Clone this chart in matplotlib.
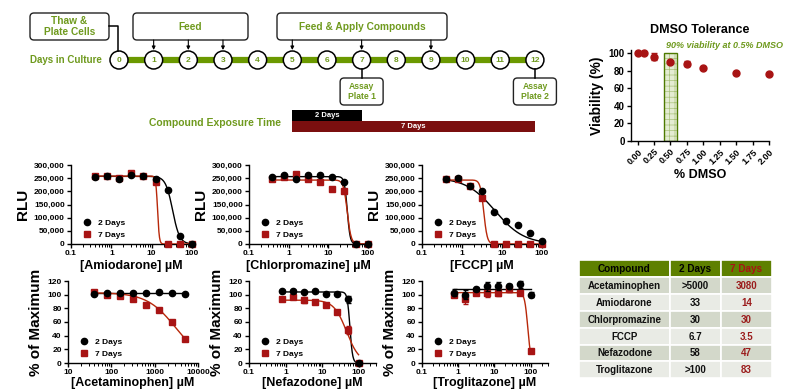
import matplotlib
matplotlib.use('Agg')
import matplotlib.pyplot as plt
import numpy as np
from matplotlib.patches import FancyBboxPatch, Rectangle, Circle
from matplotlib.lines import Line2D
from matplotlib.ticker import FuncFormatter, FixedLocator, LogLocator, NullFormatter

plt.rcParams['font.family'] = ['Liberation Sans', 'DejaVu Sans']
plt.rcParams['font.weight'] = 'bold'
plt.rcParams['axes.labelweight'] = 'bold'
plt.rcParams['hatch.linewidth'] = 0.5

GREEN = '#6f9a1e'
BAR_GREEN = '#6b9900'
RED = '#a81414'
CURVE_RED = '#b8280a'
DARK_RED = '#7b0f0f'

# ---- dose-response data ----
conc_9 = [0.39, 0.78, 1.56, 3.125, 6.25, 12.5, 25, 50, 100]
conc_8 = [0.78, 1.56, 3.125, 6.25, 12.5, 25, 50, 100]
apap_conc = [39, 78, 156, 312.5, 625, 1250, 2500, 5000]

amio_2d = [253000, 258000, 247000, 263000, 258000, 245000, 205000, 30000, 0]
amio_7d = [260000, 258000, 250000, 270000, 260000, 235000, 0, 0, 0]
chlor_2d = [253000, 262000, 247000, 262000, 262000, 256000, 235000, 0, 0]
chlor_7d = [247000, 255000, 265000, 245000, 236000, 210000, 200000, 0, 0]
fccp_2d = [248000, 250000, 222000, 200000, 120000, 88000, 72000, 42000, 12000]
fccp_7d = [248000, 248000, 222000, 175000, 0, 0, 0, 0, 0]

apap_2d = [101, 102, 102, 103, 102, 104, 102, 101]
apap_7d = [104, 99, 98, 94, 85, 77, 60, 35]
nef_2d = [105, 105, 104, 105, 101, 101, 93, 0]
nef_2d_err = [2, 2, 2, 2, 2, 2, 5, 1]
nef_7d = [94, 97, 92, 89, 85, 75, 48, 0]
nef_7d_err = [3, 3, 4, 3, 3, 3, 6, 1]
trog_2d = [103, 100, 108, 112, 113, 112, 115, 100]
trog_2d_err = [5, 7, 3, 6, 6, 4, 5, 4]
trog_7d = [100, 93, 103, 103, 103, 108, 102, 18]
trog_7d_err = [3, 6, 3, 7, 5, 4, 3, 2]

# fitted 4-parameter logistic: (top, bottom, IC50, hill); inf IC50 = no response
amio_fit = [(257000, 0, 33, 5), (258000, 0, 14, 20)]
chlor_fit = [(256000, 0, 30, 12), (243000, 0, 30, 9)]
fccp_fit = [(252000, 0, 6.7, 1.2), (243000, 0, 3.5, 10)]
apap_fit = [(102, 0, np.inf, 1), (103, 0, 3080, 1.3)]
nef_fit = [(104, 0, 58, 12), (92, 0, 47, 2.5)]
trog_fit = [(108, 0, np.inf, 1), (103, 0, 83, 10)]

# ---- DMSO tolerance ----
dmso_conc = [0, 0.1, 0.25, 0.5, 0.75, 1.0, 1.5, 2.0]
dmso_viab = [100, 99.5, 96, 90, 88, 83, 77, 76]
dmso_err = [0, 0, 4, 0, 3, 0, 0, 0]

# ---- IC50 table ----
table_cols = ['Compound', '2 Days', '7 Days']
compounds = ['Acetaminophen', 'Amiodarone', 'Chlorpromazine', 'FCCP', 'Nefazodone', 'Troglitazone']
ic50_2d = ['>5000', '33', '30', '6.7', '58', '>100']
ic50_7d = ['3080', '14', '30', '3.5', '47', '83']

# ---- timeline ----
days = list(range(13))
feed_days = [1, 2, 3]
apply_days = [5, 7, 9]
assay_days = [7, 12]
exposure_start = 5
exposures = [2, 7]


def logistic(x, top, bottom, ic50, hill):
    x = np.asarray(x, dtype=float)
    if np.isinf(ic50):
        return np.full_like(x, top)
    return bottom + (top - bottom) / (1 + (x / ic50) ** hill)


W, H = 790, 391
fig = plt.figure(figsize=(W / 100, H / 100), dpi=100)

# pixel-space canvas for the schematic and the table
can = fig.add_axes([0, 0, 1, 1])
can.set_xlim(0, W)
can.set_ylim(H, 0)
can.axis('off')

x0, dx, yline = 119, 34.66, 60
day_x = [x0 + dx * d for d in days]
can.plot([day_x[0], day_x[-1]], [yline, yline], color=BAR_GREEN, lw=4.5,
         solid_capstyle='butt', zorder=1)
for d, x in zip(days, day_x):
    can.add_patch(Circle((x, yline), 9, facecolor='white', edgecolor='black', lw=1.1, zorder=2))
    can.text(x, yline + 0.5, str(d), ha='center', va='center', fontsize=6, color=GREEN, zorder=3)
can.text(102, yline, 'Days in Culture', ha='right', va='center', fontsize=7, color=GREEN)


def box(xa, ya, xb, yb, label, fs=7.3):
    can.add_patch(FancyBboxPatch((xa, ya), xb - xa, yb - ya,
                                 boxstyle='round,pad=0,rounding_size=4',
                                 facecolor='white', edgecolor='#222222', lw=1.0))
    can.text((xa + xb) / 2, (ya + yb) / 2, label, ha='center', va='center',
             fontsize=fs, color=GREEN, linespacing=1.1)


box(30, 13, 109, 40, 'Thaw &\nPlate Cells')
can.plot([109, 118, 118], [26, 26, yline - 9], color='black', lw=1.1)
box(133, 13, 248, 40, 'Feed')
box(277, 13, 447, 40, 'Feed & Apply Compounds')
for d in feed_days + apply_days:
    can.annotate('', xy=(day_x[d], yline - 10), xytext=(day_x[d], 40),
                 arrowprops=dict(arrowstyle='-|>', color='black', lw=0.8,
                                 mutation_scale=5, shrinkA=0, shrinkB=0))
for i, d in enumerate(assay_days):
    can.plot([day_x[d], day_x[d]], [yline + 9, 78], color='black', lw=1.1)
    box(day_x[d] - 21.5, 78, day_x[d] + 21.5, 105, f'Assay\nPlate {i + 1}', fs=6.2)

can.text(281, 123, 'Compound Exposure Time', ha='right', va='center', fontsize=7.5, color=GREEN)
for k, (n, col, yt) in enumerate(zip(exposures, ['black', DARK_RED], [110, 121])):
    xs = day_x[exposure_start]
    xe = day_x[exposure_start + n]
    can.add_patch(Rectangle((xs, yt), xe - xs, 11, facecolor=col, edgecolor='none'))
    can.text((xs + xe) / 2, yt + 5.5, f'{n} Days', ha='center', va='center',
             fontsize=5.5, color='white')

# IC50 table
col_edges = [579, 670, 721, 772]
row_top, row_h = 260, 16.9
head_bg = '#5e8000'
row_bg = ['#d3d8ca', '#e9ebe5']
for j, name in enumerate(table_cols):
    can.add_patch(Rectangle((col_edges[j], row_top), col_edges[j + 1] - col_edges[j], row_h,
                            facecolor=head_bg, edgecolor='white', lw=1.2))
    can.text((col_edges[j] + col_edges[j + 1]) / 2, row_top + row_h / 2 + 0.5, name,
             ha='center', va='center', fontsize=7.2,
             color=RED if j == 2 else 'black')
for i, (c, a, b) in enumerate(zip(compounds, ic50_2d, ic50_7d)):
    yt = row_top + row_h * (i + 1)
    for j, txt in enumerate([c, a, b]):
        can.add_patch(Rectangle((col_edges[j], yt), col_edges[j + 1] - col_edges[j], row_h,
                                facecolor=row_bg[i % 2], edgecolor='white', lw=1.2))
        can.text((col_edges[j] + col_edges[j + 1]) / 2, yt + row_h / 2 + 0.5, txt,
                 ha='center', va='center', fontsize=7,
                 color='#9b1c1c' if j == 2 else '#111111')


def px_axes(left, right, bottom, top):
    return fig.add_axes([left / W, 1 - bottom / H, (right - left) / W, (bottom - top) / H])


def style(ax):
    for s in ['top', 'right']:
        ax.spines[s].set_visible(False)
    for s in ['left', 'bottom']:
        ax.spines[s].set_linewidth(1.0)
    ax.tick_params(which='major', direction='out', length=3, width=1.0, labelsize=6, pad=1.5)
    ax.tick_params(which='minor', direction='out', length=1.8, width=0.7)


def dose_panel(ax, conc, d2, d7, fits, err2=None, err7=None, rlu=True, xlim=(0.1, 100), xlabel=''):
    style(ax)
    ax.set_xscale('log')
    xx = np.logspace(np.log10(conc[0]), np.log10(conc[-1]), 300)
    ax.plot(xx, logistic(xx, *fits[0]), color='black', lw=1.0, zorder=3)
    ax.plot(xx, logistic(xx, *fits[1]), color=CURVE_RED, lw=1.0, zorder=3)
    ax.errorbar(conc, d7, yerr=err7, fmt='s', color=RED, ms=4.5, elinewidth=0.9,
                capsize=1.8, clip_on=False, zorder=4)
    ax.errorbar(conc, d2, yerr=err2, fmt='o', color='black', ms=4.5, elinewidth=0.9,
                capsize=1.8, clip_on=False, zorder=5)
    ax.set_xlim(*xlim)
    ax.xaxis.set_major_locator(LogLocator(base=10, numticks=10))
    ax.xaxis.set_minor_locator(LogLocator(base=10, subs=np.arange(2, 10), numticks=10))
    ax.xaxis.set_minor_formatter(NullFormatter())
    ax.xaxis.set_major_formatter(FuncFormatter(lambda v, p: f'{v:g}'))
    if rlu:
        ax.set_ylim(0, 300000)
        ax.yaxis.set_major_locator(FixedLocator(np.arange(0, 300001, 50000)))
        ax.yaxis.set_major_formatter(FuncFormatter(lambda v, p: f'{v:,.0f}'))
        ax.set_ylabel('RLU', fontsize=11, labelpad=3)
        ax.set_xlabel(xlabel, fontsize=9, labelpad=2)
    else:
        ax.set_ylim(0, 120)
        ax.yaxis.set_major_locator(FixedLocator(np.arange(0, 121, 20)))
        ax.set_ylabel('% of Maximum', fontsize=11, labelpad=3)
        ax.set_xlabel(xlabel, fontsize=9, labelpad=0.5)
    handles = [Line2D([], [], marker='o', ls='', color='black', ms=4.5),
               Line2D([], [], marker='s', ls='', color=RED, ms=4.5)]
    ax.legend(handles, ['2 Days', '7 Days'], loc='lower left', frameon=False, fontsize=6,
              handletextpad=0.3, borderaxespad=0.2, labelspacing=0.5,
              bbox_to_anchor=(0.02, 0.0))


top_b, top_t = 244, 165
ax1 = px_axes(71, 192, top_b, top_t)
dose_panel(ax1, conc_9, amio_2d, amio_7d, amio_fit, xlabel='[Amiodarone] µM')
ax2 = px_axes(249, 368, top_b, top_t)
dose_panel(ax2, conc_9, chlor_2d, chlor_7d, chlor_fit, xlabel='[Chlorpromazine] µM')
ax3 = px_axes(422, 542, top_b, top_t)
dose_panel(ax3, conc_9, fccp_2d, fccp_7d, fccp_fit, xlabel='[FCCP] µM')

bot_b, bot_t = 363, 281
ax4 = px_axes(68, 198, bot_b, bot_t)
dose_panel(ax4, apap_conc, apap_2d, apap_7d, apap_fit, rlu=False, xlim=(10, 10000),
           xlabel='[Acetaminophen] µM')
ax5 = px_axes(249, 376, bot_b, bot_t)
dose_panel(ax5, conc_8, nef_2d, nef_7d, nef_fit, nef_2d_err, nef_7d_err, rlu=False,
           xlim=(0.1, 300), xlabel='[Nefazodone] µM')
ax6 = px_axes(422, 548, bot_b, bot_t)
dose_panel(ax6, conc_8, trog_2d, trog_7d, trog_fit, trog_2d_err, trog_7d_err, rlu=False,
           xlim=(0.1, 300), xlabel='[Troglitazone] µM')

# DMSO tolerance
axd = fig.add_axes([631 / W, 1 - 141 / H, 138 / W, 90.6 / H])
style(axd)
axd.add_patch(Rectangle((0.4, 0), 0.2, 100, facecolor='#e4ecd2', edgecolor='#a9c27a',
                        hatch='+++', lw=0, zorder=1))
axd.add_patch(Rectangle((0.4, 0), 0.2, 100, facecolor='none', edgecolor='#4d7a00',
                        lw=1.0, zorder=2))
axd.errorbar(dmso_conc, dmso_viab, yerr=dmso_err, fmt='o', color=RED, ms=5,
             elinewidth=1.0, capsize=2, zorder=3, clip_on=False)
axd.set_xlim(-0.1, 2.0)
axd.set_ylim(0, 103)
axd.xaxis.set_major_locator(FixedLocator(np.arange(0, 2.01, 0.25)))
axd.xaxis.set_major_formatter(FuncFormatter(lambda v, p: f'{v:.2f}'))
axd.yaxis.set_major_locator(FixedLocator(np.arange(0, 101, 20)))
axd.tick_params(axis='x', labelrotation=45, labelsize=6.5)
axd.tick_params(axis='y', labelsize=7)
for lab in axd.get_xticklabels():
    lab.set_ha('right')
    lab.set_rotation_mode('anchor')
axd.set_ylabel('Viability (%)', fontsize=10, labelpad=3)
axd.set_xlabel('% DMSO', fontsize=9, labelpad=2)
can.text(700, 30, 'DMSO Tolerance', ha='center', va='center', fontsize=9, color='black')
can.text(666, 45, '90% viability at 0.5% DMSO', ha='left', va='center', fontsize=6.5,
         style='italic', color=GREEN)

fig.savefig('out.png', dpi=100)
